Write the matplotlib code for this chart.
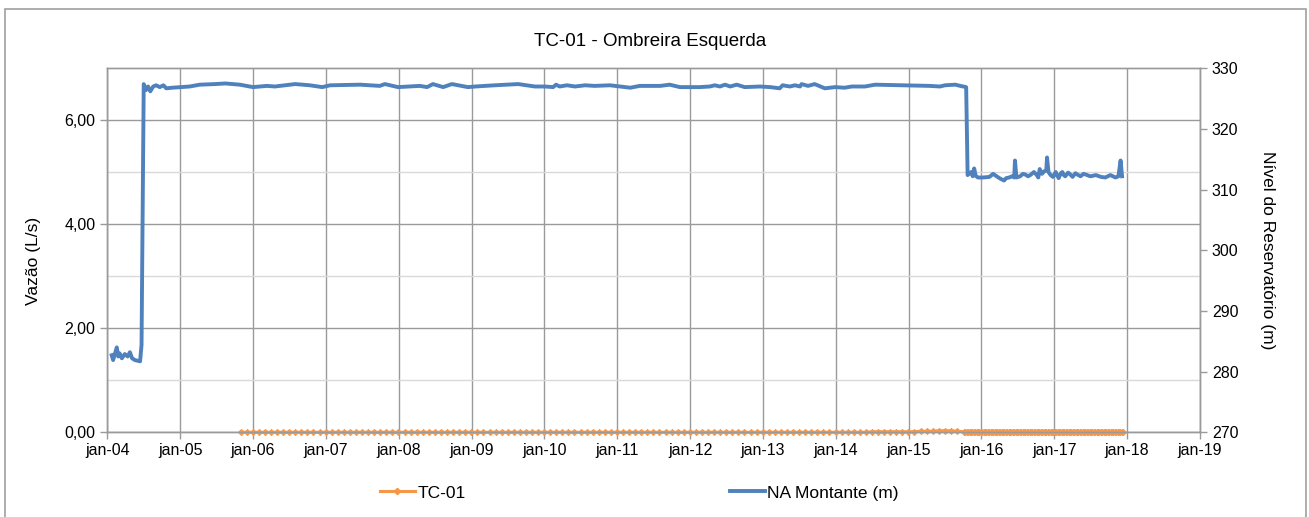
import numpy as np
import matplotlib
matplotlib.use("Agg")
import matplotlib.pyplot as plt
from matplotlib.patches import Rectangle
from matplotlib.lines import Line2D

plt.rcParams['font.family'] = ['Liberation Sans', 'DejaVu Sans']

# NA Montante (m) - decimal years and reservoir level
na_t = [2004.06, 2004.08, 2004.11, 2004.13, 2004.15, 2004.17, 2004.20, 2004.24, 2004.28,
        2004.31, 2004.34, 2004.38, 2004.45, 2004.47, 2004.49, 2004.50, 2004.53, 2004.56,
        2004.59, 2004.63, 2004.67, 2004.72, 2004.77, 2004.81, 2004.89, 2005.00, 2005.13,
        2005.27, 2005.48, 2005.62, 2005.82, 2006.00, 2006.10, 2006.19, 2006.30, 2006.58,
        2006.78, 2006.95, 2007.06, 2007.47, 2007.74, 2007.81, 2007.99, 2008.29, 2008.39,
        2008.47, 2008.61, 2008.73, 2008.95, 2009.05, 2009.32, 2009.64, 2009.87, 2010.01,
        2010.12, 2010.16, 2010.21, 2010.31, 2010.42, 2010.56, 2010.69, 2010.90, 2011.04,
        2011.18, 2011.31, 2011.59, 2011.72, 2011.86, 2012.13, 2012.27, 2012.34, 2012.41,
        2012.48, 2012.55, 2012.64, 2012.75, 2012.96, 2013.10, 2013.23, 2013.27, 2013.37,
        2013.44, 2013.51, 2013.53, 2013.62, 2013.71, 2013.85, 2013.99, 2014.12, 2014.22,
        2014.40, 2014.54, 2014.95, 2015.29, 2015.43, 2015.50, 2015.64, 2015.71, 2015.79,
        2015.81, 2015.86, 2015.88, 2015.90, 2015.92, 2015.95, 2016.02, 2016.11, 2016.16,
        2016.22, 2016.26, 2016.31, 2016.34, 2016.38, 2016.42, 2016.45, 2016.46, 2016.48,
        2016.53, 2016.57, 2016.60, 2016.64, 2016.67, 2016.70, 2016.72, 2016.76, 2016.78,
        2016.80, 2016.83, 2016.86, 2016.89, 2016.90, 2016.92, 2016.95, 2016.98, 2017.02,
        2017.04, 2017.06, 2017.09, 2017.11, 2017.13, 2017.15, 2017.19, 2017.22, 2017.25,
        2017.29, 2017.33, 2017.36, 2017.40, 2017.43, 2017.47, 2017.50, 2017.57, 2017.64,
        2017.70, 2017.77, 2017.84, 2017.88, 2017.91, 2017.93]
na_v = [282.7, 281.9, 283.2, 284.0, 282.5, 283.0, 282.2, 282.9, 282.5,
        283.2, 282.2, 281.9, 281.7, 284.4, 313.5, 327.4, 326.4, 327.0,
        326.2, 327.0, 327.2, 326.9, 327.2, 326.7, 326.8, 326.9, 327.0,
        327.3, 327.4, 327.5, 327.3, 326.9, 327.0, 327.1, 327.0, 327.4,
        327.2, 326.9, 327.2, 327.3, 327.1, 327.4, 326.9, 327.1, 326.9,
        327.4, 326.9, 327.4, 326.9, 327.0, 327.2, 327.4, 327.0, 327.0,
        326.9, 327.3, 327.0, 327.2, 327.0, 327.2, 327.1, 327.2, 327.0,
        326.8, 327.1, 327.1, 327.3, 326.9, 326.9, 327.0, 327.2, 327.0,
        327.3, 327.0, 327.3, 326.9, 327.0, 326.9, 326.7, 327.2, 327.0,
        327.2, 327.0, 327.4, 327.1, 327.4, 326.7, 326.9, 326.8, 327.0,
        327.0, 327.3, 327.2, 327.1, 327.0, 327.2, 327.3, 327.1, 326.9,
        312.4, 312.9, 312.2, 313.5, 312.3, 312.0, 312.0, 312.1, 312.6,
        312.1, 311.8, 311.5, 311.9, 312.0, 312.2, 312.0, 314.8, 312.0,
        312.2, 312.6, 312.5, 312.2, 312.4, 312.7, 312.9, 312.4, 312.0,
        313.4, 312.6, 313.0, 313.2, 315.3, 312.9, 312.4, 312.1, 312.9,
        312.3, 311.9, 312.7, 312.9, 312.4, 312.2, 312.8, 312.5, 312.1,
        312.7, 312.4, 312.2, 312.6, 312.5, 312.3, 312.2, 312.4, 312.1,
        312.0, 312.4, 312.0, 312.2, 314.8, 312.2]

# TC-01 (L/s) - monthly readings from nov-05 to sep-15
tc_monthly = [0.00, 0.00,
              0.00, 0.00, 0.00, 0.00, 0.00, 0.00, 0.00, 0.00, 0.00, 0.00, 0.00, 0.00,
              0.00, 0.00, 0.00, 0.00, 0.00, 0.00, 0.00, 0.00, 0.00, 0.00, 0.00, 0.00,
              0.00, 0.00, 0.00, 0.00, 0.00, 0.00, 0.00, 0.00, 0.00, 0.00, 0.00, 0.00,
              0.00, 0.00, 0.00, 0.00, 0.00, 0.00, 0.00, 0.00, 0.00, 0.00, 0.00, 0.00,
              0.00, 0.00, 0.00, 0.00, 0.00, 0.00, 0.00, 0.00, 0.00, 0.00, 0.00, 0.00,
              0.00, 0.00, 0.00, 0.00, 0.00, 0.00, 0.00, 0.00, 0.00, 0.00, 0.00, 0.00,
              0.00, 0.00, 0.00, 0.00, 0.00, 0.00, 0.00, 0.00, 0.00, 0.00, 0.00, 0.00,
              0.00, 0.00, 0.00, 0.00, 0.00, 0.00, 0.00, 0.00, 0.00, 0.00, 0.00, 0.00,
              0.00, 0.00, 0.00, 0.00, 0.00, 0.00, 0.01, 0.01, 0.01, 0.01, 0.01, 0.01,
              0.01, 0.01, 0.02, 0.02, 0.02, 0.03, 0.03, 0.03, 0.02]
# TC-01 weekly readings from oct-15 to dec-17
tc_weekly = [0.01, 0.01, 0.01, 0.01, 0.01, 0.01, 0.01, 0.01, 0.01, 0.01, 0.01, 0.01, 0.01,
             0.01, 0.01, 0.01, 0.01, 0.01, 0.01, 0.01, 0.01, 0.01, 0.01, 0.01, 0.01, 0.01,
             0.01, 0.01, 0.01, 0.01, 0.01, 0.01, 0.01, 0.01, 0.01, 0.01, 0.01, 0.01, 0.01,
             0.01, 0.01, 0.01, 0.01, 0.01, 0.01, 0.01, 0.01, 0.01, 0.01, 0.01, 0.01, 0.01,
             0.01, 0.01, 0.01, 0.01, 0.01, 0.01, 0.01, 0.01, 0.01, 0.01, 0.01, 0.01, 0.01,
             0.01, 0.01, 0.01, 0.01, 0.01, 0.01, 0.01, 0.01, 0.01, 0.01, 0.01, 0.01, 0.01,
             0.01, 0.01, 0.01, 0.01, 0.01, 0.01, 0.01, 0.01, 0.01, 0.01, 0.01, 0.01, 0.01,
             0.01, 0.01, 0.01, 0.01, 0.01, 0.01, 0.01, 0.01, 0.01, 0.01, 0.01, 0.01, 0.01,
             0.01, 0.01, 0.01, 0.01, 0.01, 0.01, 0.01, 0.01, 0.01, 0.01, 0.01]

tc_t = list(2005.83 + np.arange(len(tc_monthly)) / 12.0) + \
       list(2015.76 + np.arange(len(tc_weekly)) * 7 / 365.25)
tc_v = tc_monthly + tc_weekly

years = list(range(2004, 2020))
year_labels = ['jan-%02d' % (y % 100) for y in years]

blue = '#4f81bd'
orange = '#f79646'
grid_major = '#9a9a9a'
grid_minor = '#d9d9d9'

fig = plt.figure(figsize=(13.09, 5.17), dpi=100)
ax = fig.add_axes([107.3 / 1309, 1 - 432.3 / 517, (1200 - 107.3) / 1309, (432.3 - 68.3) / 517])
ax2 = ax.twinx()

# outer chart border
fig.patches.append(Rectangle((5 / 1309, -0.05), 1300.5 / 1309, 1.05 - 9 / 517,
                             transform=fig.transFigure, fill=False,
                             edgecolor='#a0a0a0', linewidth=1.2))

ax.plot(tc_t, tc_v, color=orange, linewidth=2.2, marker='D', markersize=3.2,
        markeredgewidth=0.6, zorder=4, clip_on=False)
ax2.plot(na_t, na_v, color=blue, linewidth=2.8, zorder=3)

ax.set_xlim(2004, 2019)
ax.set_ylim(0, 7)
ax2.set_ylim(270, 330)

ax.set_xticks(years)
ax.set_xticklabels(year_labels)
ax.set_yticks([0, 2, 4, 6])
ax.set_yticklabels(['0,00', '2,00', '4,00', '6,00'])
ax.set_yticks([1, 3, 5], minor=True)
ax2.set_yticks([270, 280, 290, 300, 310, 320, 330])

ax.grid(True, which='major', color=grid_major, linewidth=1.0, zorder=0)
ax.grid(True, which='minor', axis='y', color=grid_minor, linewidth=1.0, zorder=0)
ax.set_axisbelow(True)

for a in (ax, ax2):
    for s in a.spines.values():
        s.set_color(grid_major)
        s.set_linewidth(1.0)
    a.tick_params(axis='both', colors=grid_major, labelcolor='black', labelsize=11.5,
                  length=5, width=1.0)
ax.tick_params(axis='y', which='minor', length=0)
ax.tick_params(axis='x', pad=3)

ax.set_ylabel('Vazão (L/s)', fontsize=12.5)
ax.yaxis.set_label_coords(-0.061, 0.47)
ax2.set_ylabel('Nível do Reservatório (m)', fontsize=12.5, rotation=270, va='center')
ax2.yaxis.set_label_coords(1.062, 0.5)

fig.text(0.497, 1 - 42 / 517, 'TC-01 - Ombreira Esquerda', fontsize=13.5,
         ha='center', va='center')

h1 = Line2D([], [], color=orange, linewidth=2.2, marker='D', markersize=3.2)
h2 = Line2D([], [], color=blue, linewidth=2.8)
leg1 = fig.legend([h1], ['TC-01'], loc='center left', bbox_to_anchor=(380 / 1309, 1 - 493 / 517),
                  frameon=False, fontsize=12.5, handlelength=2.0, handletextpad=0.15,
                  borderpad=0, borderaxespad=0)
leg2 = fig.legend([h2], ['NA Montante (m)'], loc='center left',
                  bbox_to_anchor=(730 / 1309, 1 - 493 / 517),
                  frameon=False, fontsize=12.5, handlelength=2.0, handletextpad=0.15,
                  borderpad=0, borderaxespad=0)

fig.savefig('out.png', dpi=100, facecolor='white')
